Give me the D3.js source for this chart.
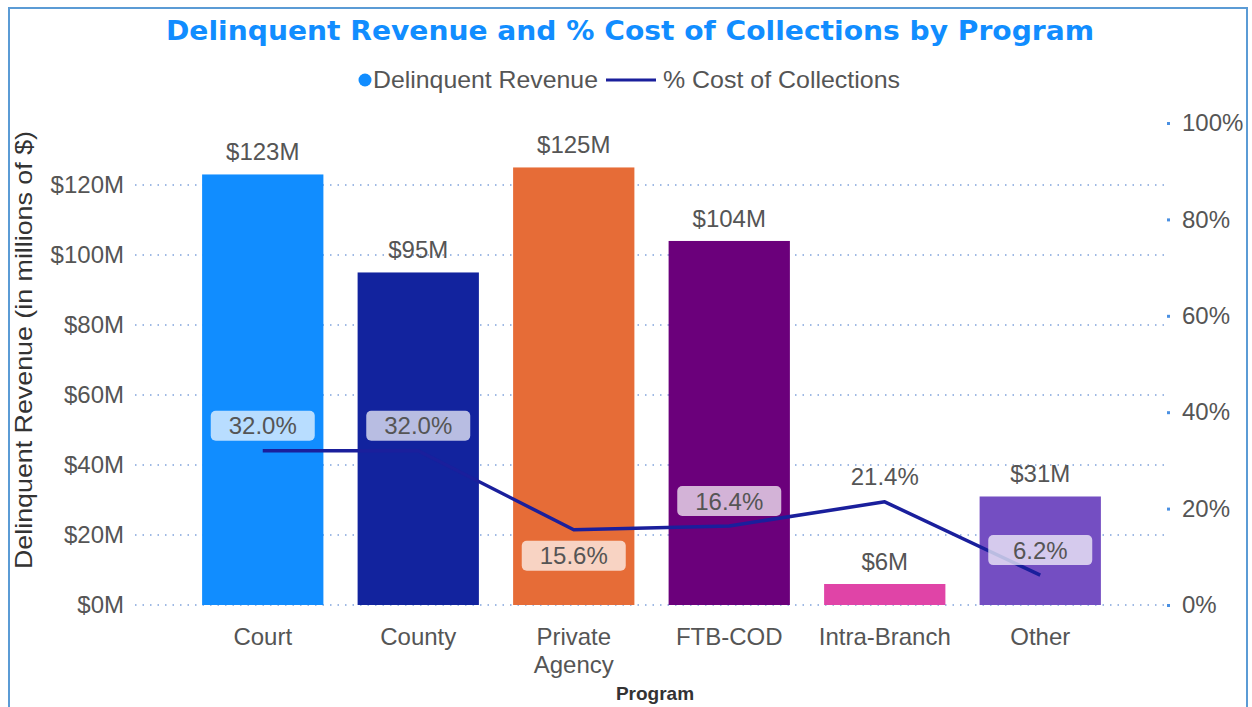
<!DOCTYPE html>
<html>
<head>
<meta charset="utf-8">
<script src="https://cdn.jsdelivr.net/npm/d3@7"></script>
<style>
  body { margin: 0; background: #fff; }
  svg { display: block; font-family: "Liberation Sans", Arial, sans-serif; }
</style>
</head>
<body>
<div id="chart"></div>
<script>
// data
const programs = ["Court", "County", "Private Agency", "FTB-COD", "Intra-Branch", "Other"];
const revenue = [123, 95, 125, 104, 6, 31];            // millions of $
const costPct = [0.320, 0.320, 0.156, 0.164, 0.214, 0.062];
const revenueTicks = [0, 20, 40, 60, 80, 100, 120];
const pctTicks = [0, 0.2, 0.4, 0.6, 0.8, 1.0];
const barColors = ["#118DFF", "#12239E", "#E66C37", "#6B007B", "#E044A7", "#744EC2"];
const belowLabels = ["Private Agency"];

const width = 1252, height = 707;
const lineColor = "#1a1f9c";
const textColor = "#555";
const fontSize = "24px";

const svg = d3.select("#chart").append("svg")
    .attr("width", width)
    .attr("height", height);

// frame
svg.append("rect")
    .attr("x", 9).attr("y", 8)
    .attr("width", 1238).attr("height", 710)
    .attr("fill", "none")
    .attr("stroke", "#5b9bd5")
    .attr("stroke-width", 2);

var xScale = d3.scaleBand()
    .domain(programs)
    .range([185, 1118])
    .paddingInner(0.22)
    .paddingOuter(0.11);

var yScale = d3.scaleLinear()
    .domain([0, 137.7])
    .range([605, 123]);

var pScale = d3.scaleLinear()
    .domain([0, 1])
    .range([605, 123]);

// gridlines
svg.append("g").selectAll("line")
    .data(revenueTicks)
    .enter()
    .append("line")
    .attr("x1", 135).attr("x2", 1165)
    .attr("y1", d => yScale(d)).attr("y2", d => yScale(d))
    .attr("stroke", "#7fa2dc")
    .attr("stroke-width", 1.5)
    .attr("stroke-dasharray", "1.5,6");

// left axis
var yAxis = svg.append("g")
    .attr("transform", "translate(127,0)")
    .call(d3.axisLeft(yScale).tickValues(revenueTicks).tickSize(0).tickFormat(d => "$" + d + "M"));
yAxis.select(".domain").remove();
yAxis.selectAll("text")
    .attr("fill", textColor)
    .attr("font-size", fontSize)
    .attr("font-family", "Liberation Sans, Arial, sans-serif");

// right axis
var pAxis = svg.append("g")
    .attr("transform", "translate(1182,0)")
    .call(d3.axisRight(pScale).tickValues(pctTicks).tickSize(0).tickPadding(0).tickFormat(d3.format(".0%")));
pAxis.select(".domain").remove();
pAxis.selectAll("text")
    .attr("fill", textColor)
    .attr("font-size", fontSize)
    .attr("font-family", "Liberation Sans, Arial, sans-serif");
pAxis.selectAll(".tick").append("rect")
    .attr("x", -15).attr("y", -1.5)
    .attr("width", 3).attr("height", 3)
    .attr("fill", "#4a90e2");

// x axis labels
var xAxis = svg.append("g")
    .attr("transform", "translate(0,617)")
    .call(d3.axisBottom(xScale).tickSize(0));
xAxis.select(".domain").remove();
xAxis.selectAll("text").remove();
xAxis.selectAll(".tick").append("text")
    .attr("fill", textColor)
    .attr("font-size", fontSize)
    .attr("text-anchor", "middle")
    .each(function (d) {
        const words = d === "Private Agency" ? d.split(" ") : [d];
        d3.select(this).selectAll("tspan")
            .data(words)
            .enter()
            .append("tspan")
            .attr("x", 0)
            .attr("y", (w, i) => 28 + i * 28)
            .text(w => w);
    });

// bars
svg.append("g").selectAll("rect")
    .data(programs)
    .enter()
    .append("rect")
    .attr("x", d => xScale(d))
    .attr("y", (d, i) => yScale(revenue[i]))
    .attr("width", xScale.bandwidth())
    .attr("height", (d, i) => yScale(0) - yScale(revenue[i]))
    .attr("fill", (d, i) => barColors[i]);

// bar value labels
svg.append("g").selectAll("text")
    .data(programs)
    .enter()
    .append("text")
    .attr("x", d => xScale(d) + xScale.bandwidth() / 2)
    .attr("y", (d, i) => yScale(revenue[i]) - 14)
    .attr("text-anchor", "middle")
    .attr("font-size", fontSize)
    .attr("fill", textColor)
    .text((d, i) => "$" + revenue[i] + "M");

// cost line
var line = d3.line()
    .x(d => xScale(d) + xScale.bandwidth() / 2)
    .y((d, i) => pScale(costPct[i]));

svg.append("path")
    .datum(programs)
    .attr("d", line)
    .attr("fill", "none")
    .attr("stroke", lineColor)
    .attr("stroke-width", 3.5)
    .attr("stroke-linejoin", "round");

// percent labels, boxed when they sit over a bar
var labelY = (d, i) => pScale(costPct[i]) + (belowLabels.includes(d) ? 26 : -25);

var pctLabels = svg.append("g").selectAll("g")
    .data(programs)
    .enter()
    .append("g")
    .attr("transform", (d, i) => "translate(" + (xScale(d) + xScale.bandwidth() / 2) + "," + labelY(d, i) + ")");

pctLabels.filter((d, i) => labelY(d, i) - 15 > yScale(revenue[i]))
    .append("rect")
    .attr("x", -52).attr("y", -15)
    .attr("width", 104).attr("height", 30)
    .attr("rx", 5)
    .attr("fill", "#fff")
    .attr("fill-opacity", 0.7);

pctLabels.append("text")
    .attr("text-anchor", "middle")
    .attr("dy", "0.36em")
    .attr("font-size", fontSize)
    .attr("fill", textColor)
    .text((d, i) => d3.format(".1%")(costPct[i]));

// axis titles
svg.append("text")
    .attr("transform", "translate(32,350) rotate(-90)")
    .attr("text-anchor", "middle")
    .attr("font-size", fontSize)
    .attr("fill", "#333")
    .attr("textLength", 438)
    .attr("lengthAdjust", "spacingAndGlyphs")
    .text("Delinquent Revenue (in millions of $)");

svg.append("text")
    .attr("x", 655).attr("y", 700)
    .attr("text-anchor", "middle")
    .attr("font-size", "19px")
    .attr("font-weight", "bold")
    .attr("fill", "#333")
    .text("Program");

// title
svg.append("text")
    .attr("x", 630).attr("y", 40)
    .attr("text-anchor", "middle")
    .attr("font-family", "DejaVu Sans, Verdana, sans-serif")
    .attr("font-size", "27px")
    .attr("font-weight", "bold")
    .attr("fill", "#118DFF")
    .attr("textLength", 928)
    .attr("lengthAdjust", "spacingAndGlyphs")
    .text("Delinquent Revenue and % Cost of Collections by Program");

// legend
var legend = svg.append("g");
legend.append("circle")
    .attr("cx", 365).attr("cy", 80).attr("r", 6.5)
    .attr("fill", "#118DFF");
legend.append("text")
    .attr("x", 373).attr("y", 88)
    .attr("font-size", fontSize)
    .attr("fill", textColor)
    .attr("textLength", 225)
    .attr("lengthAdjust", "spacingAndGlyphs")
    .text("Delinquent Revenue");
legend.append("line")
    .attr("x1", 606).attr("x2", 656)
    .attr("y1", 80).attr("y2", 80)
    .attr("stroke", lineColor)
    .attr("stroke-width", 3);
legend.append("text")
    .attr("x", 663).attr("y", 88)
    .attr("font-size", fontSize)
    .attr("fill", textColor)
    .attr("textLength", 237)
    .attr("lengthAdjust", "spacingAndGlyphs")
    .text("% Cost of Collections");
</script>
</body>
</html>
